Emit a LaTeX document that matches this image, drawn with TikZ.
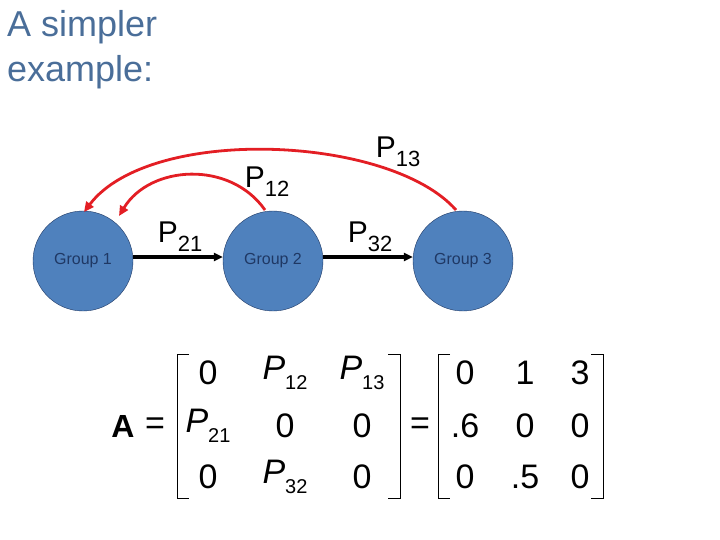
\documentclass[tikz,border=0pt]{standalone}
\usepackage{fontspec}
\setmainfont{Liberation Sans}
\usetikzlibrary{arrows.meta}
\definecolor{ttl}{HTML}{4A6E99}
\definecolor{gfill}{HTML}{4F81BD}
\definecolor{gline}{HTML}{1F3864}
\definecolor{redar}{HTML}{E31E24}
\begin{document}
\begin{tikzpicture}[x=1pt,y=-1pt,
  grp/.style={circle,draw=gline,fill=gfill,minimum size=100pt,inner sep=0pt,text=gline,font=\fontsize{16}{18}\selectfont},
  blk/.style={-{Triangle[length=9pt,width=8pt]},line width=3.5pt},
  rd/.style={-{Triangle[length=10pt,width=9pt]},redar,line width=2.8pt},
  lab/.style={font=\fontsize{30}{32}\selectfont,inner sep=0pt},
  cell/.style={font=\fontsize{34}{36}\selectfont,inner sep=0pt},
  brk/.style={line width=1pt}]
\useasboundingbox (0,0) rectangle (720,540);
\node[anchor=north west,align=left,text=ttl,font=\fontsize{36}{45}\selectfont,inner sep=0pt] (title) at (7,10) {A simpler\\example:};
\node[grp] (g1) at (83,261) {Group 1};
\node[grp] (g2) at (273,261) {Group 2};
\node[grp] (g3) at (463,261) {Group 3};
\draw[blk] (g1.east|-0,257) -- (g2.west|-0,257);
\draw[blk] (g2.east|-0,257) -- (g3.west|-0,257);
\node[lab] (p21) at (180,237) {P\raisebox{-0.3em}{\fontsize{22}{22}\selectfont 21}};
\node[lab] (p32) at (370,237) {P\raisebox{-0.3em}{\fontsize{22}{22}\selectfont 32}};
\node[lab] (p12) at (267,182) {P\raisebox{-0.3em}{\fontsize{22}{22}\selectfont 12}};
\node[lab] (p13) at (398,152) {P\raisebox{-0.3em}{\fontsize{22}{22}\selectfont 13}};
\coordinate (s2) at (265,210);
\coordinate (e1) at (119,216);
\coordinate (s3) at (456,210);
\coordinate (e0) at (84,212);
\draw[rd] (s2) .. controls (230,160) and (150,165) .. (e1);
\draw[rd] (s3) .. controls (390,135) and (150,125) .. (e0);
% matrix
\node[font=\fontsize{32}{34}\selectfont\bfseries,inner sep=0pt] (A) at (123,426) {A};
\node[cell] (eq1) at (155,426) {=};
\node[cell] (eq2) at (420,426) {=};
\node[cell] (a11) at (208,373) {0};
\node[cell] (a12) at (285,373) {\itshape P\raisebox{-0.3em}{\upshape\fontsize{20}{20}\selectfont 12}};
\node[cell] (a13) at (362,373) {\itshape P\raisebox{-0.3em}{\upshape\fontsize{20}{20}\selectfont 13}};
\node[cell] (a21) at (208,426) {\itshape P\raisebox{-0.3em}{\upshape\fontsize{20}{20}\selectfont 21}};
\node[cell] (a22) at (285,426) {0};
\node[cell] (a23) at (362,426) {0};
\node[cell] (a31) at (208,477) {0};
\node[cell] (a32) at (285,477) {\itshape P\raisebox{-0.3em}{\upshape\fontsize{20}{20}\selectfont 32}};
\node[cell] (a33) at (362,477) {0};
\node[cell] (b11) at (465,373) {0};
\node[cell] (b12) at (525,373) {1};
\node[cell] (b13) at (580,373) {3};
\node[cell] (b21) at (465,426) {.6};
\node[cell] (b22) at (525,426) {0};
\node[cell] (b23) at (580,426) {0};
\node[cell] (b31) at (465,477) {0};
\node[cell] (b32) at (525,477) {.5};
\node[cell] (b33) at (580,477) {0};
\draw[brk] (189,354) -- (177,354) -- (177,498) -- (189,498);
\draw[brk] (388,354) -- (400,354) -- (400,498) -- (388,498);
\draw[brk] (450,354) -- (438,354) -- (438,498) -- (450,498);
\draw[brk] (591,354) -- (603,354) -- (603,498) -- (591,498);
\end{tikzpicture}
\end{document}
